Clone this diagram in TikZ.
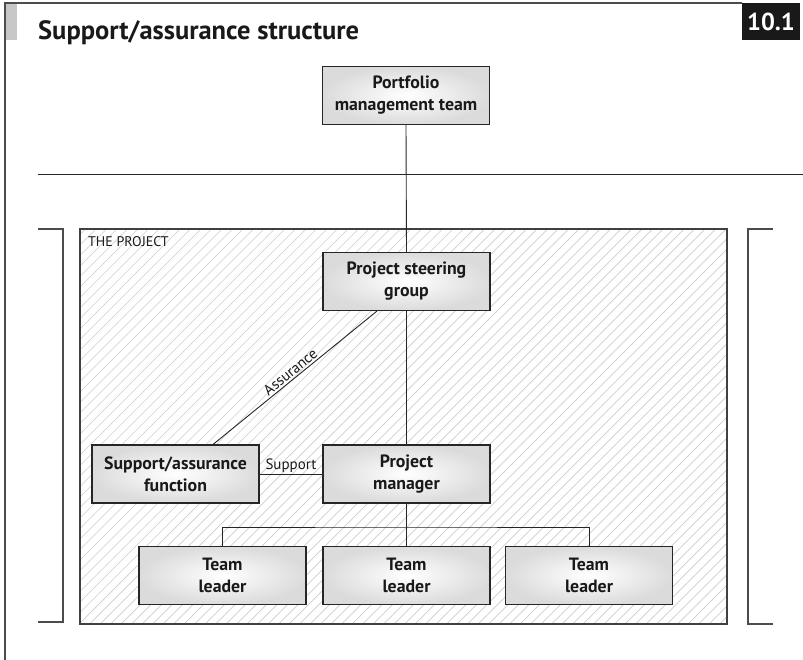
\documentclass[tikz,border=0pt]{standalone}
\usepackage{fontspec}
\setmainfont{PT Sans}
\usetikzlibrary{calc}
\begin{document}
\begin{tikzpicture}[x=1pt,y=-1pt,
  box/.style={draw=black!85, line width=1.1pt, inner color=white, outer color=black!14,
    minimum width=167, minimum height=58, align=center, inner sep=0pt,
    font=\bfseries\fontsize{17.8}{22}\selectfont, text=black!90},
  ln/.style={draw=black!85, line width=0.9pt},
  lbl/.style={inner sep=1.5pt, font=\fontsize{15}{17}\selectfont, text=black!90},
  frm/.style={draw=black!70, line width=1.3pt}]
\useasboundingbox (0,0) rectangle (803,660);
% outer frame
\fill[black!22] (5,4) rectangle (17,40);
\draw[frm] (5,660) -- (5,3) -- (742,3);
\node[fill=black!90, text=white, minimum width=58, minimum height=37, inner sep=0pt,
  font=\bfseries\fontsize{24.5}{26}\selectfont] (num) at (771,21.5) {10.1};
\node[anchor=base west, inner sep=0pt, font=\bfseries\fontsize{26.5}{30}\selectfont, text=black!90] (title) at (38,40) {Support/assurance structure};
% separator line
\coordinate (sepL) at (38,174);
\coordinate (sepR) at (803,174);
\draw[ln] (sepL) -- (sepR);
% project area with hatching
\begin{scope}
\clip (80,229) rectangle (727,624);
\foreach \i in {0,10.5,...,1090} {
  \draw[black!20, line width=0.7pt] (80+\i-400,624) -- (80+\i,224);
}
\end{scope}
\draw[black!75, line width=1.2pt] (80,229) rectangle (727,624);
\node[anchor=north west, inner sep=0pt, font=\fontsize{14}{16}\selectfont, text=black!90] (proj) at (88,236) {THE PROJECT};
% brackets
\draw[frm] (38,229) -- (63,229) -- (63,622) -- (38,622);
\draw[frm] (773,229) -- (748,229) -- (748,624) -- (773,624);
% boxes
\node[box] (pmt) at (406,95.5) {Portfolio\\management team};
\node[box] (sg) at (406.5,281.5) {Project steering\\group};
\node[box] (sa) at (175.5,474) {Support/assurance\\function};
\node[box] (pm) at (406.5,474) {Project\\manager};
\node[box] (tl1) at (222.5,575.5) {Team\\leader};
\node[box] (tl2) at (406.5,575.5) {Team\\leader};
\node[box] (tl3) at (589,575.5) {Team\\leader};
% connectors
\draw[ln] (pmt.south) -- (sg.north);
\draw[ln] (sg.south) -- (pm.north);
\draw[ln] ($(sg.south)+(-29.5,0)$) -- node[midway, above, sloped, lbl] {Assurance} ($(sa.north)+(37.5,0)$);
\draw[ln] (sa.east) -- node[midway, above, lbl] {Support} (pm.west);
\draw[ln] (pm.south) -- (tl2.north);
\coordinate (bus) at (0,527);
\draw[ln] (tl1.north) |- (bus -| tl2.north) -| (tl3.north);
\end{tikzpicture}
\end{document}
